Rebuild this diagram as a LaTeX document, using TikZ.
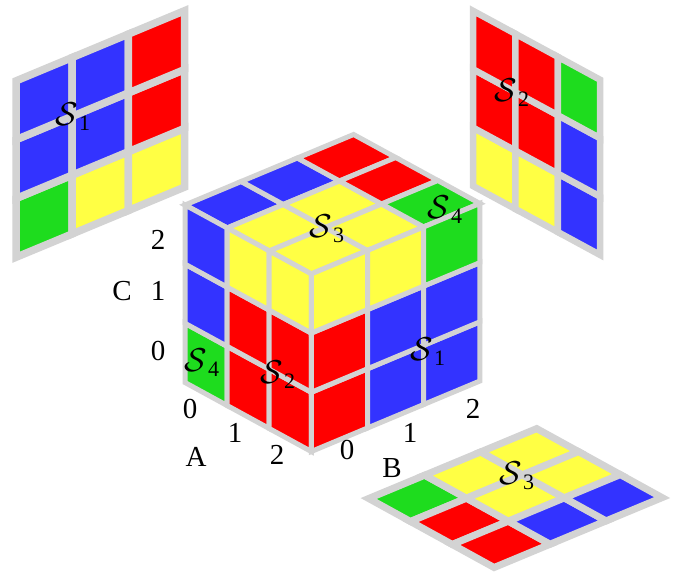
\documentclass[tikz,border=0pt]{standalone}
\usepackage{fontspec}
\setmainfont{Liberation Serif}
\definecolor{cred}{HTML}{FF0000}
\definecolor{cblue}{HTML}{3333FF}
\definecolor{cgreen}{HTML}{1EDC1E}
\definecolor{cyellow}{HTML}{FFFF44}
\definecolor{cgrid}{HTML}{D3D3D3}
\tikzset{
  facet/.style n args={6}{shift={(#1,#2)},x={(#3pt,-#4pt)},y={(#5pt,-#6pt)}},
  lab/.style={font=\fontsize{29}{29}\selectfont,inner sep=0pt,text=black},
  sym/.style={font=\fontsize{24.88}{25}\selectfont,inner sep=0pt,text=black},
}
\newcommand{\symb}[1]{\scalebox{1.33}{$\mathcal{S}$}\kern0.5pt\raisebox{-5pt}{\fontsize{22}{22}\selectfont #1}}
\newcommand{\cellgrid}[2]{%
  \foreach \i/\j/\c in {#2}{
    \draw[draw=cgrid,line width=#1pt,line join=miter,fill=\c]
      (\i,\j)--++(1,0)--++(0,1)--++(-1,0)--cycle;
  }%
}
\begin{document}
\begin{tikzpicture}[x=1pt,y=-1pt]
\useasboundingbox (0,0) rectangle (683,571);
% main cube: top
\begin{scope}[facet={185}{205}{42.1}{23}{56.2}{-23.5}]
\cellgrid{5}{0/0/cblue,0/1/cblue,0/2/cred,1/0/cyellow,1/1/cyellow,1/2/cred,2/0/cyellow,2/1/cyellow,2/2/cgreen}
\end{scope}
% main cube: left
\begin{scope}[facet={185}{382.5}{42.1}{23}{0}{-59.2}]
\cellgrid{5}{0/0/cgreen,0/1/cblue,0/2/cblue,1/0/cred,1/1/cred,1/2/cyellow,2/0/cred,2/1/cred,2/2/cyellow}
\end{scope}
% main cube: right
\begin{scope}[facet={311.3}{451.5}{56.2}{-23.5}{0}{-59.2}]
\cellgrid{5}{0/0/cred,0/1/cred,0/2/cyellow,1/0/cblue,1/1/cblue,1/2/cyellow,2/0/cblue,2/1/cblue,2/2/cgreen}
\end{scope}
% panel S1
\begin{scope}[facet={16}{257.3}{56.2}{-23.4}{0}{-58.8}]
\cellgrid{7.5}{0/0/cgreen,0/1/cblue,0/2/cblue,1/0/cyellow,1/1/cblue,1/2/cblue,2/0/cyellow,2/1/cred,2/2/cred}
\end{scope}
% panel S2
\begin{scope}[facet={473}{186}{42.4}{23}{0}{-58.4}]
\cellgrid{6.5}{0/0/cyellow,0/1/cred,0/2/cred,1/0/cyellow,1/1/cred,1/2/cred,2/0/cblue,2/1/cblue,2/2/cgreen}
\end{scope}
% panel S3
\begin{scope}[facet={368.7}{498.5}{41.8}{23}{56}{-23.3}]
\cellgrid{7}{0/0/cgreen,0/1/cyellow,0/2/cyellow,1/0/cred,1/1/cyellow,1/2/cyellow,2/0/cred,2/1/cblue,2/2/cblue}
\end{scope}
% symbols
\node[sym] (s1p) at (73,117) {\symb{1}};
\node[sym] (s2p) at (512,93) {\symb{2}};
\node[sym] (s3p) at (517,476) {\symb{3}};
\node[sym] (s3m) at (327,229) {\symb{3}};
\node[sym] (s4t) at (445,210) {\symb{4}};
\node[sym] (s1m) at (428,352) {\symb{1}};
\node[sym] (s2m) at (278,375) {\symb{2}};
\node[sym] (s4l) at (202,363) {\symb{4}};
% axis labels
\node[lab] (lc) at (122,291) {C};
\node[lab] (c0) at (158,351) {0};
\node[lab] (c1) at (158,291) {1};
\node[lab] (c2) at (158,240) {2};
\node[lab] (la) at (196,457) {A};
\node[lab] (a0) at (190,409) {0};
\node[lab] (a1) at (235,433) {1};
\node[lab] (a2) at (277,455) {2};
\node[lab] (lb) at (392,468) {B};
\node[lab] (b0) at (347,450) {0};
\node[lab] (b1) at (410,433) {1};
\node[lab] (b2) at (473,409) {2};
\end{tikzpicture}
\end{document}
